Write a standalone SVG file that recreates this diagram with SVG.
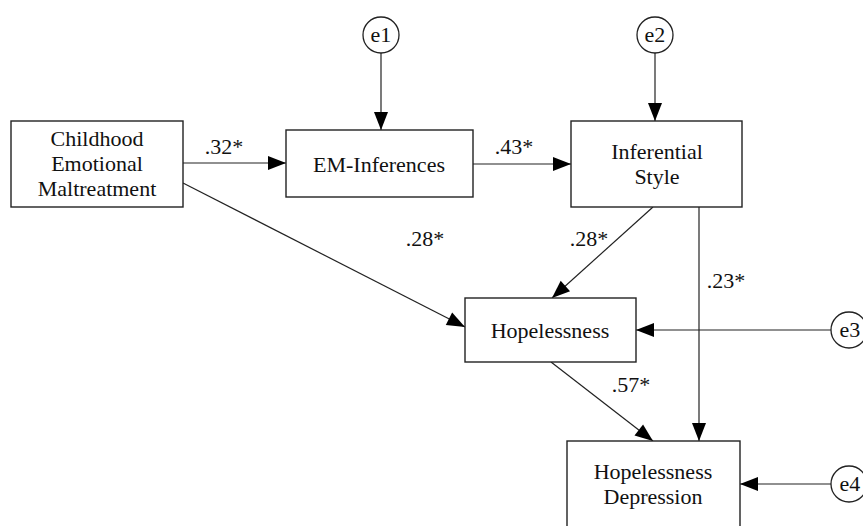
<svg xmlns="http://www.w3.org/2000/svg" width="863" height="526" viewBox="0 0 863 526">
<style>
text{font-family:"Liberation Serif","Times New Roman","DejaVu Serif",serif;font-size:22px;fill:#111;text-anchor:middle}
.box{fill:#fff;stroke:#222;stroke-width:1.4}
.err{fill:#fff;stroke:#222;stroke-width:1.3}
.c{stroke:#222;stroke-width:1.2;fill:none;marker-end:url(#ah)}
</style>
<defs>
<marker id="ah" markerUnits="userSpaceOnUse" markerWidth="20" markerHeight="16" viewBox="0 0 20 16" refX="19" refY="8" orient="auto">
<path d="M1,1 L19,8 L1,15 Z" fill="#000"/>
</marker>
</defs>
<rect width="863" height="526" fill="#fff"/>
<g id="connectors">
<line class="c" x1="183" y1="163" x2="286" y2="163"/>
<line class="c" x1="473" y1="164" x2="571" y2="164"/>
<line class="c" x1="381" y1="53" x2="381" y2="130"/>
<line class="c" x1="655" y1="53" x2="655" y2="121"/>
<line class="c" x1="183" y1="183" x2="465" y2="327"/>
<line class="c" x1="653" y1="207" x2="552" y2="298"/>
<line class="c" x1="699" y1="207" x2="699" y2="441"/>
<line class="c" x1="831" y1="330" x2="636" y2="330"/>
<line class="c" x1="551" y1="362" x2="653" y2="441"/>
<line class="c" x1="831" y1="484" x2="740" y2="484"/>
<text x="224" y="154">.32*</text>
<text x="514" y="154">.43*</text>
<text x="425" y="246">.28*</text>
<text x="589" y="246">.28*</text>
<text x="726" y="288">.23*</text>
<text x="631" y="392">.57*</text>
</g>
<g id="e1"><circle class="err" cx="381" cy="35" r="18"/><text x="381" y="42">e1</text></g>
<g id="e2"><circle class="err" cx="655" cy="35" r="18"/><text x="655" y="42">e2</text></g>
<g id="e3"><circle class="err" cx="849" cy="330" r="18"/><text x="850" y="337">e3</text></g>
<g id="e4"><circle class="err" cx="849" cy="484" r="18"/><text x="850" y="491">e4</text></g>
<g id="childhood"><rect class="box" x="11" y="121" width="172" height="86"/>
<text x="97" y="146">Childhood</text><text x="97" y="171">Emotional</text><text x="97" y="196">Maltreatment</text></g>
<g id="em"><rect class="box" x="286" y="130" width="187" height="67"/><text x="379" y="172">EM-Inferences</text></g>
<g id="inferential"><rect class="box" x="571" y="121" width="171" height="86"/><text x="657" y="159">Inferential</text><text x="657" y="184">Style</text></g>
<g id="hopelessness"><rect class="box" x="465" y="298" width="171" height="64"/><text x="550" y="338">Hopelessness</text></g>
<g id="hd"><rect class="box" x="567" y="441" width="173" height="100"/><text x="653" y="479">Hopelessness</text><text x="653" y="504">Depression</text></g>
</svg>
